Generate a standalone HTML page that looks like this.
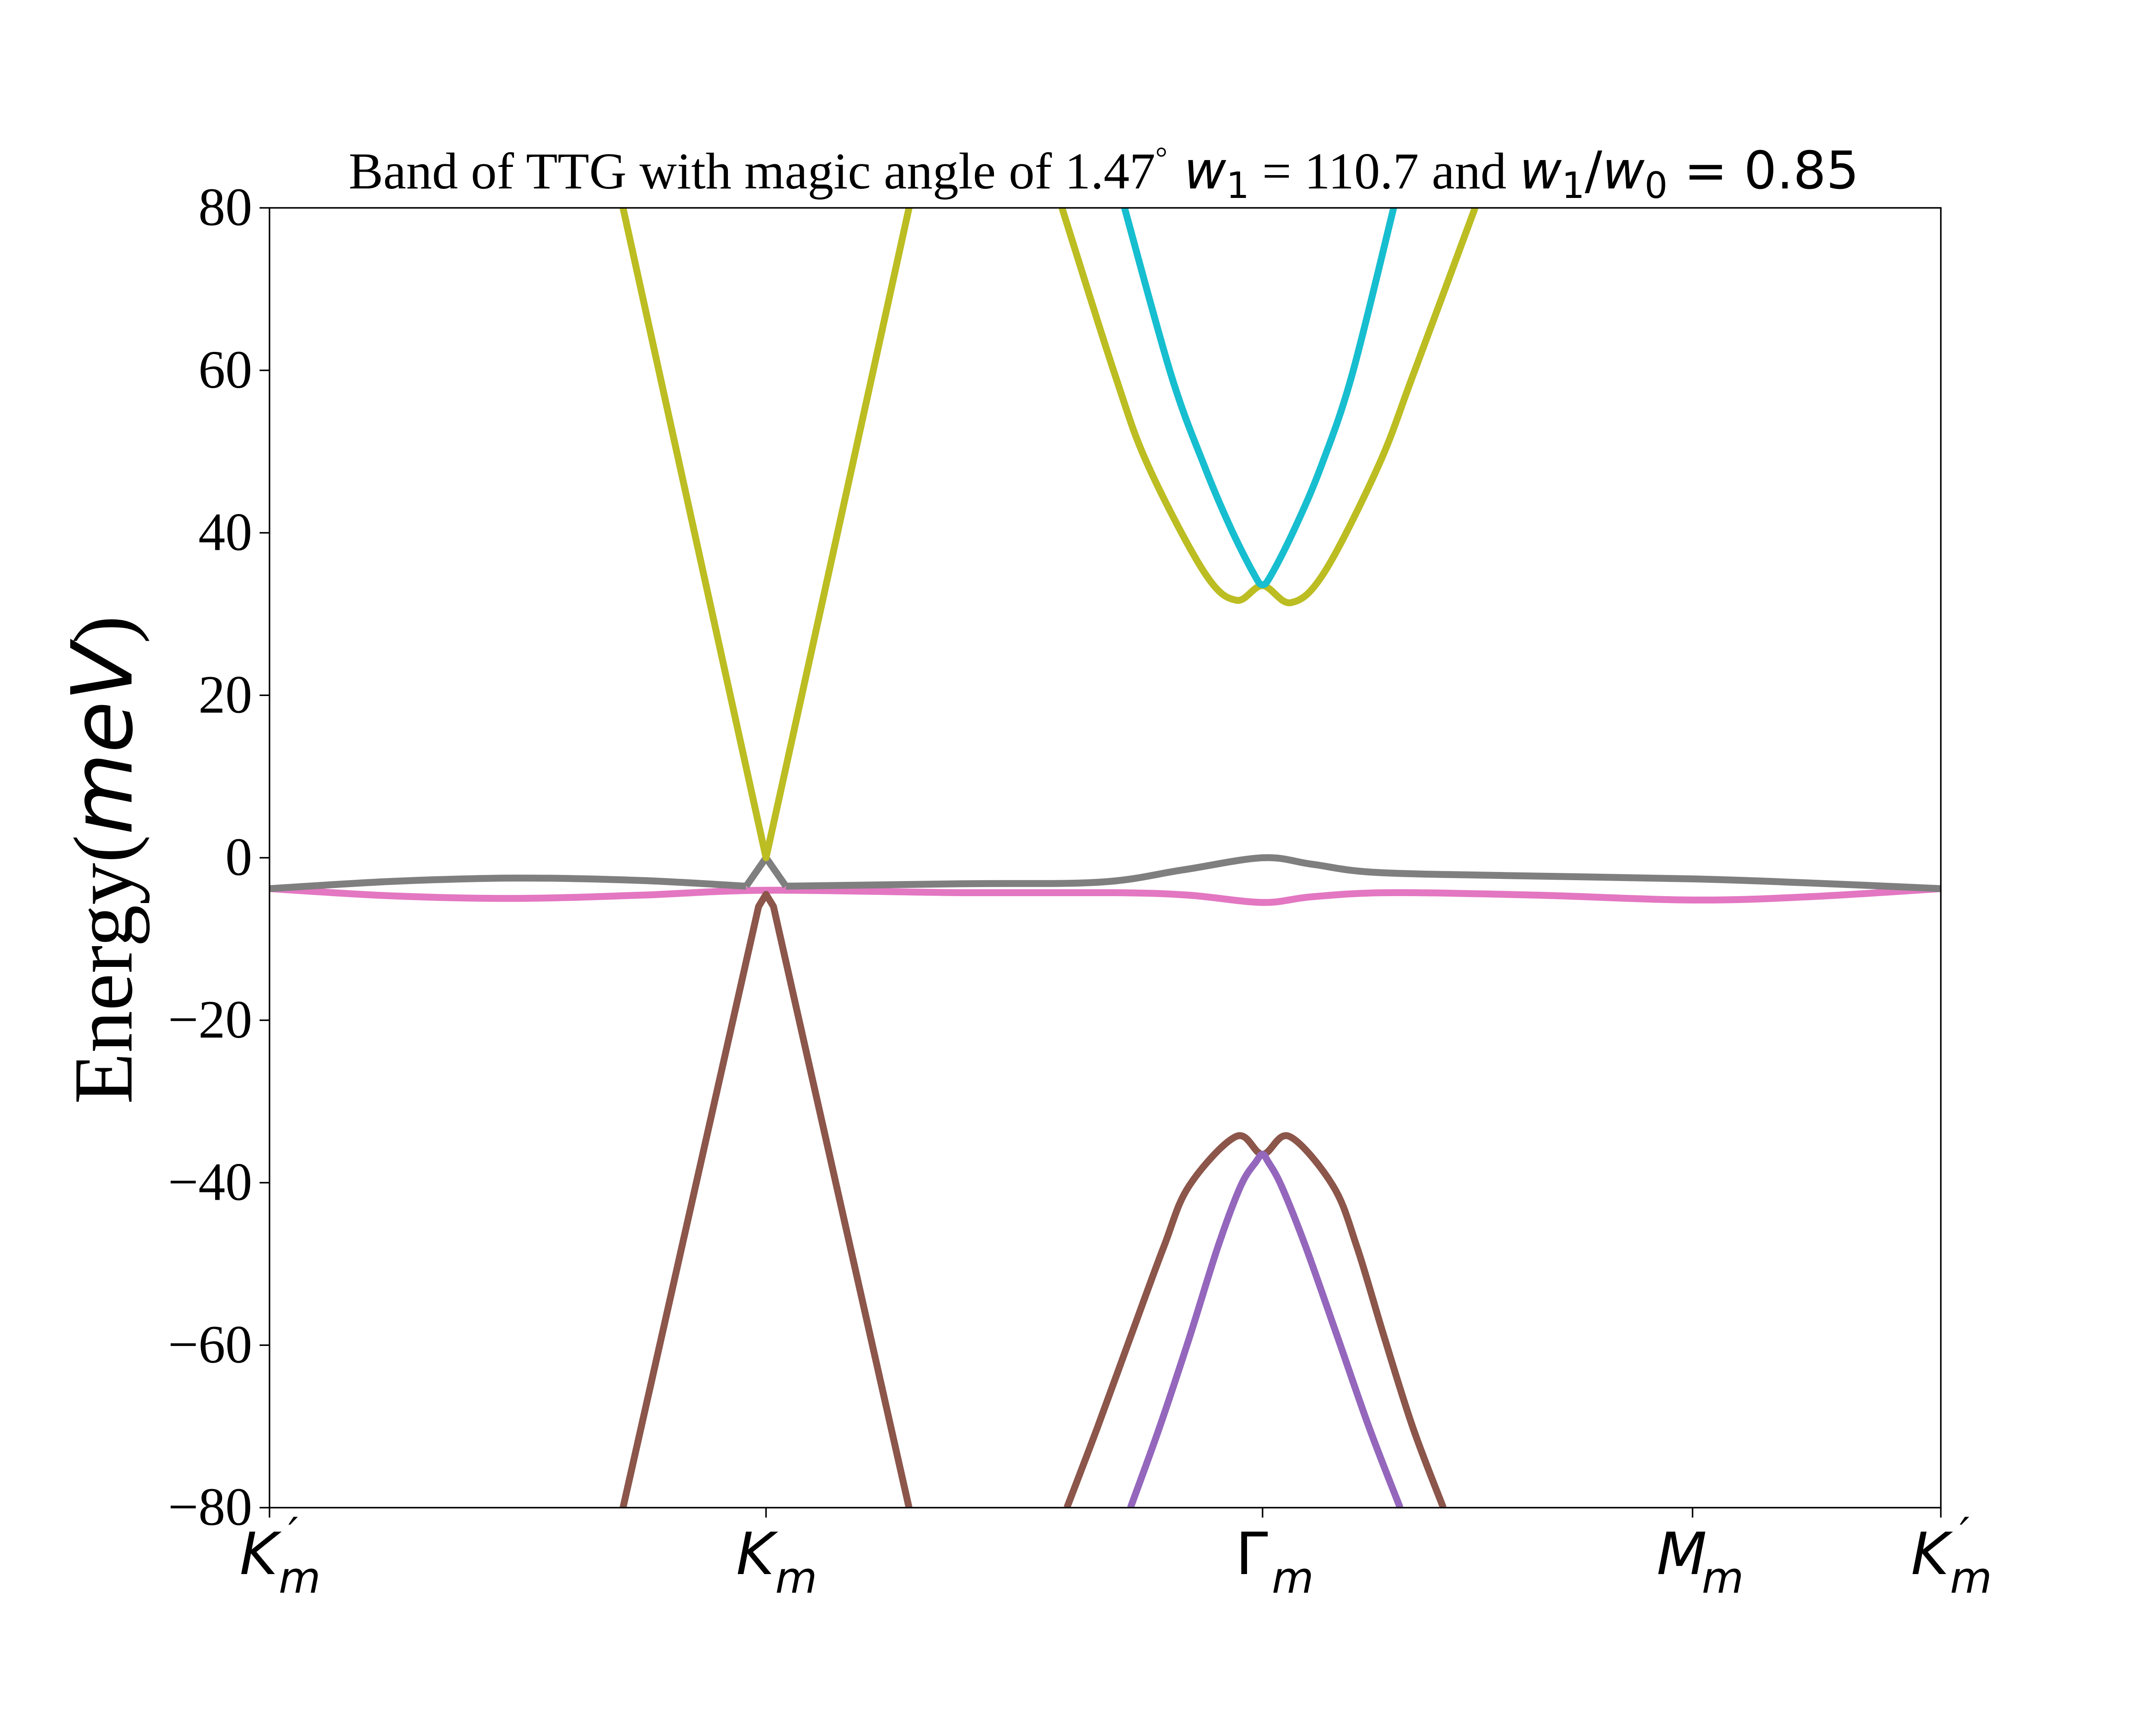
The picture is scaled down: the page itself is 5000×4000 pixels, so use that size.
<!DOCTYPE html>
<html><head><meta charset="utf-8"><style>
html,body{margin:0;padding:0;background:#fff}
svg{display:block}
</style></head><body>
<svg id="chart" width="5000" height="4000" viewBox="0 0 5000 4000" xmlns="http://www.w3.org/2000/svg">
<rect width="5000" height="4000" fill="#fff"/>
<defs><clipPath id="pc"><rect x="625" y="482" width="3876" height="3014"/></clipPath></defs>
<g id="series" clip-path="url(#pc)"></g>
<rect x="625" y="482" width="3876" height="3014" fill="none" stroke="#000" stroke-width="3.5"/>
<g id="axes"></g>
<text x="2560" y="437" text-anchor="middle" font-family="Liberation Serif, serif" font-size="120">Band of TTG with magic angle of 1.47<tspan font-size="70" dy="-48">°</tspan><tspan dy="48" font-family="DejaVu Sans, sans-serif" font-style="italic"> w</tspan><tspan font-family="DejaVu Sans, sans-serif" font-size="84" dy="22">1</tspan><tspan dy="-22"> = 110.7 and </tspan><tspan font-family="DejaVu Sans, sans-serif" font-style="italic">w</tspan><tspan font-family="DejaVu Sans, sans-serif" font-size="84" dy="22">1</tspan><tspan font-family="DejaVu Sans, sans-serif" dy="-22">/</tspan><tspan font-family="DejaVu Sans, sans-serif" font-style="italic">w</tspan><tspan font-family="DejaVu Sans, sans-serif" font-size="84" dy="22">0</tspan><tspan font-family="DejaVu Sans, sans-serif" dy="-22"> = 0.85</tspan></text>
<text transform="translate(305,1994) rotate(-90)" text-anchor="middle" font-family="Liberation Serif, serif" font-size="195">Energy(<tspan font-family="DejaVu Sans, sans-serif" font-style="italic">meV</tspan>)</text>
</svg>
<script>
const X0=625,X1=4501,Y0=3496,Y1=482,XMAX=3.366,YMIN=-80,YMAX=80;
const yTicks=[-80,-60,-40,-20,0,20,40,60,80];
const xTickPos=[0,1,2,2.866,3.366];
const xTickMain=["K","K","Γ","M","K"];
const xTickPrime=[true,false,false,false,true];
const olive1X=[0.712,1.0,1.288];
const olive1Y=[80,0,80];
const olive2X=[1.596,1.703,1.770,1.883,1.947,2.0,2.057,2.124,2.233,2.303,2.428];
const olive2Y=[80,59.4,48.2,35.1,31.7,33.5,31.4,35.1,48.2,59.4,80];
const cyanX=[1.722,1.816,1.883,1.935,1.981,2.0,2.020,2.066,2.118,2.180,2.264];
const cyanY=[80,59.4,48.2,40.7,35.1,33.6,35.1,40.7,48.2,59.4,80];
const brown1X=[0.712,0.985,1.0,1.015,1.288];
const brown1Y=[-80,-6,-4.5,-6,-80];
const brown2X=[1.606,1.667,1.734,1.801,1.852,1.947,2.0,2.054,2.142,2.190,2.245,2.303,2.364];
const brown2Y=[-80,-70.2,-59.0,-47.9,-40.4,-34.3,-36.5,-34.3,-40.4,-47.9,-59.0,-70.2,-80];
const purpleX=[1.734,1.792,1.853,1.910,1.956,1.987,2.0,2.011,2.038,2.087,2.151,2.215,2.277];
const purpleY=[-80,-70.2,-59.0,-47.9,-40.4,-37.4,-36.5,-37.4,-40.4,-47.9,-59.0,-70.2,-80];
const grayLeftX=[0,0.25,0.496,0.75,0.96];
const grayLeftY=[-3.8,-2.9,-2.5,-2.8,-3.5];
const grayKX=[0.96,1.0,1.04];
const grayKY=[-3.5,0,-3.5];
const grayRightX=[1.04,1.396,1.673,1.839,2.0,2.1,2.227,2.5,2.866,3.1,3.366];
const grayRightY=[-3.5,-3.2,-3.0,-1.5,0,-0.8,-1.8,-2.2,-2.6,-3.1,-3.8];
const pinkX=[0,0.25,0.496,0.75,1.0,1.4,1.7,1.85,2.0,2.1,2.255,2.55,2.866,3.1,3.366];
const pinkY=[-3.8,-4.7,-5.0,-4.6,-4.0,-4.3,-4.3,-4.6,-5.5,-4.8,-4.3,-4.6,-5.2,-4.8,-3.8];
function sx(v){return X0+(X1-X0)*v/XMAX;}
function sy(v){return Y0+(Y1-Y0)*(v-YMIN)/(YMAX-YMIN);}
const NS="http://www.w3.org/2000/svg";
const gS=document.getElementById('series'),gA=document.getElementById('axes');
function smooth(xs,ys){const p=xs.map((x,i)=>[sx(x),sy(ys[i])]);let d=`M${p[0][0]},${p[0][1]}`;
 for(let i=0;i<p.length-1;i++){const a=p[i-1]||p[i],b=p[i],c=p[i+1],e=p[i+2]||c;
 d+=` C${b[0]+(c[0]-a[0])/6},${b[1]+(c[1]-a[1])/6} ${c[0]-(e[0]-b[0])/6},${c[1]-(e[1]-b[1])/6} ${c[0]},${c[1]}`;}return d;}
function poly(xs,ys){return xs.map((x,i)=>(i?'L':'M')+sx(x)+','+sy(ys[i])).join(' ');}
function line(d,color,name){const el=document.createElementNS(NS,'path');el.setAttribute('d',d);el.setAttribute('fill','none');el.setAttribute('stroke',color);el.setAttribute('stroke-width','16');el.setAttribute('stroke-linejoin','round');


gS.appendChild(el);}
line(smooth(pinkX,pinkY),'#e377c2','band-pink');
line(smooth(grayLeftX,grayLeftY)+' '+poly(grayKX,grayKY)+' '+smooth(grayRightX,grayRightY),'#7f7f7f','band-gray');
line(poly(brown1X,brown1Y),'#8c564b','band-brown-k');
line(smooth(brown2X,brown2Y),'#8c564b','band-brown-gamma');
line(smooth(purpleX,purpleY),'#9467bd','band-purple');
line(poly(olive1X,olive1Y),'#bcbd22','band-olive-k');
line(smooth(olive2X,olive2Y),'#bcbd22','band-olive-gamma');
line(smooth(cyanX,cyanY),'#17becf','band-cyan');
yTicks.forEach(v=>{const y=sy(v);
 const t=document.createElementNS(NS,'line');t.setAttribute('x1',X0-23);t.setAttribute('x2',X0);t.setAttribute('y1',y);t.setAttribute('y2',y);t.setAttribute('stroke','#000');t.setAttribute('stroke-width','3.5');
 
 
 gA.appendChild(t);
 const l=document.createElementNS(NS,'text');l.setAttribute('x',X0-40);l.setAttribute('y',y+40);l.setAttribute('text-anchor','end');l.setAttribute('font-family','Liberation Serif, serif');l.setAttribute('font-size','125');
 l.textContent=(v<0?'\u2212':'')+Math.abs(v);
 
 
 gA.appendChild(l);});
function txt(x,y,s,size,italic,name){const l=document.createElementNS(NS,'text');l.setAttribute('x',x);l.setAttribute('y',y);l.setAttribute('text-anchor','middle');l.setAttribute('font-family','DejaVu Sans, sans-serif');l.setAttribute('font-size',size);if(italic)l.setAttribute('font-style','italic');l.textContent=s;
 
 
 gA.appendChild(l);}
xTickPos.forEach((v,i)=>{const x=sx(v);
 const t=document.createElementNS(NS,'line');t.setAttribute('x1',x);t.setAttribute('x2',x);t.setAttribute('y1',Y0);t.setAttribute('y2',Y0+23);t.setAttribute('stroke','#000');t.setAttribute('stroke-width','3.5');
 
 
 gA.appendChild(t);
 txt(x-25,3650,xTickMain[i],135,xTickMain[i]!=='Γ','x-tick-label');
 txt(x+70,3693,'m',100,true,'x-tick-subscript');
 if(xTickPrime[i]) txt(x+55,3590,'′',100,true,'x-tick-prime');
});
</script>
</body></html>
